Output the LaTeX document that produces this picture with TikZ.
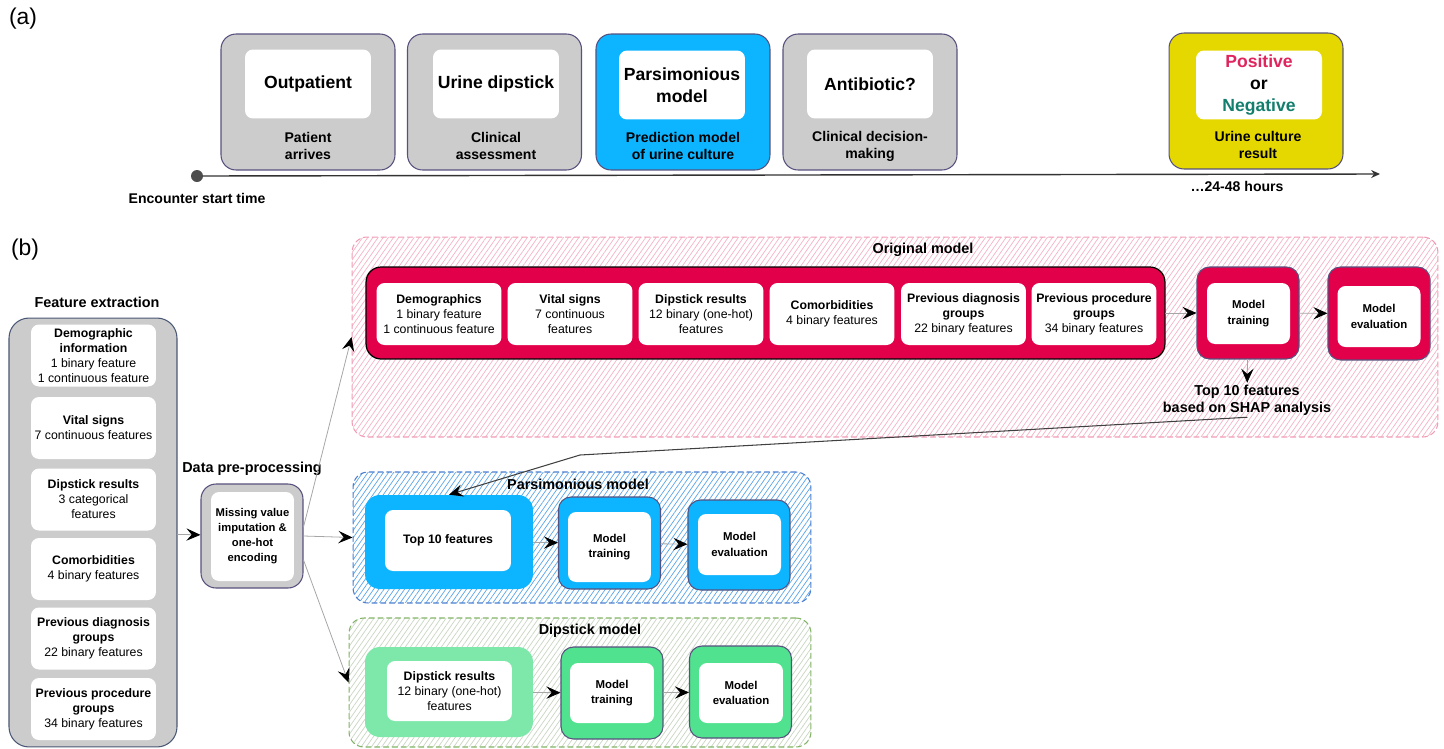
\documentclass[tikz,border=0pt]{standalone}
\usepackage{fontspec}
\setmainfont{Liberation Sans}
\usetikzlibrary{arrows.meta}
\usetikzlibrary{patterns.meta}

\definecolor{stagegrey}{HTML}{CCCCCC}
\definecolor{framepurple}{HTML}{56517E}
\definecolor{framesteel}{HTML}{4A5875}
\definecolor{skyblue}{HTML}{0DB4FF}
\definecolor{crimson}{HTML}{E3004B}
\definecolor{mustard}{HTML}{E5D800}
\definecolor{mintgreen}{HTML}{50E28E}
\definecolor{lightgreen}{HTML}{7DE8AA}
\definecolor{posred}{HTML}{E0245E}
\definecolor{negteal}{HTML}{137E6D}
\definecolor{pinkframe}{HTML}{F19CB5}
\definecolor{pinkhatch}{HTML}{F5B3C6}
\definecolor{blueframe}{HTML}{4C7FD0}
\definecolor{bluehatch}{HTML}{5AA5E8}
\definecolor{greenframe}{HTML}{82B366}
\definecolor{greenhatch}{HTML}{C9D6C3}
\definecolor{linegrey}{HTML}{A6A6A6}
\definecolor{linkgrey}{HTML}{404040}
\definecolor{dotgrey}{HTML}{4D4D4D}

\begin{document}
\begin{tikzpicture}[line cap=round,line join=round,x=0.02cm,y=-0.02cm,
  >={Stealth[length=8pt,width=7pt,inset=3pt,color=black]},
  stage/.style={draw=framepurple,line width=0.6pt,rounded corners=0.3cm,minimum width=3.48cm,minimum height=2.72cm},
  whitebox/.style={fill=white,rounded corners=0.16cm,align=center,inner sep=0pt},
  ainner/.style={whitebox,minimum width=2.52cm,minimum height=1.38cm,font=\bfseries\fontsize{10}{12.3}\selectfont},
  alabel/.style={align=center,inner sep=0pt,font=\bfseries\fontsize{8}{9.8}\selectfont},
  btitle/.style={align=center,inner sep=1pt,font=\bfseries\fontsize{8.2}{9.6}\selectfont},
  featbox/.style={whitebox,minimum width=2.5cm,minimum height=1.24cm,font=\fontsize{7}{8.5}\selectfont},
  modelbox/.style={draw=framepurple,line width=0.6pt,rounded corners=0.25cm,minimum width=2.04cm,minimum height=1.84cm},
  modelin/.style={whitebox,minimum width=1.66cm,minimum height=1.22cm,font=\bfseries\fontsize{6.5}{8.8}\selectfont},
  region/.style={preaction={fill=white},pattern={Lines[angle=55,distance=2.4pt,line width=0.4pt]},dash pattern=on 3pt off 2pt,line width=0.6pt,rounded corners=0.3cm},
  flow/.style={draw=linegrey,line width=0.45pt,->},
  link/.style={draw=linkgrey,line width=0.6pt,->}]
\useasboundingbox (0,0) rectangle (1444,748);

\node[font=\fontsize{13}{15}\selectfont] (tag-a) at (23,19) {(a)};
\node[stage,fill=stagegrey] (outp) at (308,102) {};
\node[ainner] (outp-in) at (308,84) {Outpatient};
\node[alabel] (outp-lab) at (308,146) {Patient\\arrives};
\node[stage,fill=stagegrey] (dips) at (494.5,102) {};
\node[ainner] (dips-in) at (496,84) {Urine dipstick};
\node[alabel] (dips-lab) at (496,146) {Clinical\\assessment};
\node[stage,fill=skyblue] (pmod) at (683,102) {};
\node[ainner] (pmod-in) at (682,85) {Parsimonious\\model};
\node[alabel] (pmod-lab) at (683,146) {Prediction model\\of urine culture};
\node[stage,fill=stagegrey] (abx) at (870,102) {};
\node[ainner] (abx-in) at (870,84) {Antibiotic?};
\node[alabel] (abx-lab) at (870,146) {Clinical decision-\\making};
\node[stage,fill=mustard] (res) at (1256,101) {};
\node[ainner] (res-in) at (1259,85) {{\color{posred}Positive}\\or\\{\color{negteal}Negative}};
\node[alabel] (res-lab) at (1258,145) {Urine culture\\result};

\node[circle,fill=dotgrey,inner sep=0pt,minimum size=0.24cm] (t0) at (197,176) {};
\coordinate (t1) at (1380,174);
\draw[draw=black!80,line width=0.8pt,-{Stealth[length=5pt,width=4.5pt]}] (t0) -- (t1);
\node[alabel] (t0-lab) at (197,198) {Encounter start time};
\node[alabel] (t1-lab) at (1237,186) {\dots24-48 hours};

\node[font=\fontsize{13}{15}\selectfont] (tag-b) at (25,250) {(b)};
\node[draw=framesteel,fill=stagegrey,line width=0.6pt,rounded corners=0.4cm,minimum width=3.36cm,minimum height=8.58cm] (feat) at (93,532.5) {};
\node[btitle] (feat-title) at (97,302) {Feature extraction};
\node[featbox] (f1) at (93.5,355.5) {\textbf{Demographic}\\\textbf{information}\\1 binary feature\\1 continuous feature};
\node[featbox] (f2) at (93.5,428) {\textbf{Vital signs}\\7 continuous features};
\node[featbox] (f3) at (93.5,499.5) {\textbf{Dipstick results}\\3 categorical\\features};
\node[featbox] (f4) at (93.5,569) {\textbf{Comorbidities}\\4 binary features};
\node[featbox] (f5) at (93.5,638.5) {\textbf{Previous diagnosis}\\\textbf{groups}\\22 binary features};
\node[featbox] (f6) at (93.5,709) {\textbf{Previous procedure}\\\textbf{groups}\\34 binary features};

\node[draw=framepurple,fill=stagegrey,line width=0.6pt,rounded corners=0.3cm,minimum width=2.04cm,minimum height=2.08cm] (prep) at (252,536) {};
\node[whitebox,minimum width=1.66cm,minimum height=1.78cm,font=\bfseries\fontsize{6.4}{8.5}\selectfont] (prep-in) at (252.5,536.5) {Missing value\\imputation \&\\one-hot\\encoding};
\node[btitle] (prep-title) at (252,469) {Data pre-processing};

\node[region,draw=pinkframe,pattern color=pinkhatch,minimum width=21.72cm,minimum height=4cm] (orig) at (895,337) {};
\node[btitle] (orig-title) at (923,250) {Original model};
\node[draw=black,fill=crimson,line width=0.7pt,rounded corners=0.3cm,minimum width=15.98cm,minimum height=1.84cm] (o-feat) at (765.5,313) {};
\node[featbox] (o1) at (439,314) {\textbf{Demographics}\\1 binary feature\\1 continuous feature};
\node[featbox] (o2) at (570,314) {\textbf{Vital signs}\\7 continuous\\features};
\node[featbox] (o3) at (701,314) {\textbf{Dipstick results}\\12 binary (one-hot)\\features};
\node[featbox] (o4) at (832,314) {\textbf{Comorbidities}\\4 binary features};
\node[featbox] (o5) at (963.5,314) {\textbf{Previous diagnosis}\\\textbf{groups}\\22 binary features};
\node[featbox] (o6) at (1094,314) {\textbf{Previous procedure}\\\textbf{groups}\\34 binary features};
\node[modelbox,fill=crimson] (o-train) at (1248,313) {};
\node[modelin] (o-train-in) at (1248.5,313.5) {Model\\training};
\node[modelbox,fill=crimson,minimum height=1.86cm] (o-eval) at (1379,313.5) {};
\node[modelin] (o-eval-in) at (1379,316.5) {Model\\evaluation};
\node[btitle] (shap) at (1247,400) {Top 10 features\\based on SHAP analysis};

\node[region,draw=blueframe,pattern color=bluehatch,minimum width=9.16cm,minimum height=2.62cm] (pars) at (582,537.5) {};
\node[btitle] (pars-title) at (578,484) {Parsimonious model};
\node[fill=skyblue,rounded corners=0.3cm,minimum width=3.36cm,minimum height=1.88cm] (p-top) at (449,542) {};
\node[whitebox,minimum width=2.52cm,minimum height=1.22cm,font=\bfseries\fontsize{7}{8.5}\selectfont] (p-top-in) at (448,540.5) {Top 10 features};
\node[modelbox,fill=skyblue] (p-train) at (609.5,543) {};
\node[modelin,minimum height=1.4cm] (p-train-in) at (609.5,547) {Model\\training};
\node[modelbox,fill=skyblue,minimum height=1.8cm] (p-eval) at (739,545) {};
\node[modelin] (p-eval-in) at (739.5,544.5) {Model\\evaluation};

\node[region,draw=greenframe,pattern color=greenhatch,minimum width=9.24cm,minimum height=2.58cm] (dip) at (580,682.5) {};
\node[btitle] (dip-title) at (590,631) {Dipstick model};
\node[fill=lightgreen,rounded corners=0.3cm,minimum width=3.36cm,minimum height=1.8cm] (d-res) at (449,692) {};
\node[featbox,minimum height=1.2cm] (d-res-in) at (449.5,691) {\textbf{Dipstick results}\\12 binary (one-hot)\\features};
\node[modelbox,fill=mintgreen] (d-train) at (612,693) {};
\node[modelin,minimum width=1.68cm,minimum height=1.2cm] (d-train-in) at (612,693) {Model\\training};
\node[modelbox,fill=mintgreen] (d-eval) at (740.5,692) {};
\node[modelin,minimum width=1.68cm,minimum height=1.2cm] (d-eval-in) at (741,693) {Model\\evaluation};

\draw[flow] (feat) -- (prep);
\draw[flow] (prep.10) -- (orig.west);
\draw[flow] (prep.east) -- (pars.west);
\draw[flow] (prep.-25) -- (dip.west);
\draw[flow] (o-feat) -- (o-train);
\draw[flow] (o-train) -- (o-eval);
\draw[flow] (o-train) -- (shap);
\coordinate (kink) at (580,455);
\draw[link] (shap.south) -- (kink) -- (p-top.north);
\draw[flow] (p-top) -- (p-train);
\draw[flow] (p-train) -- (p-eval);
\draw[flow] (d-res) -- (d-train);
\draw[flow] (d-train) -- (d-eval);
\end{tikzpicture}
\end{document}
